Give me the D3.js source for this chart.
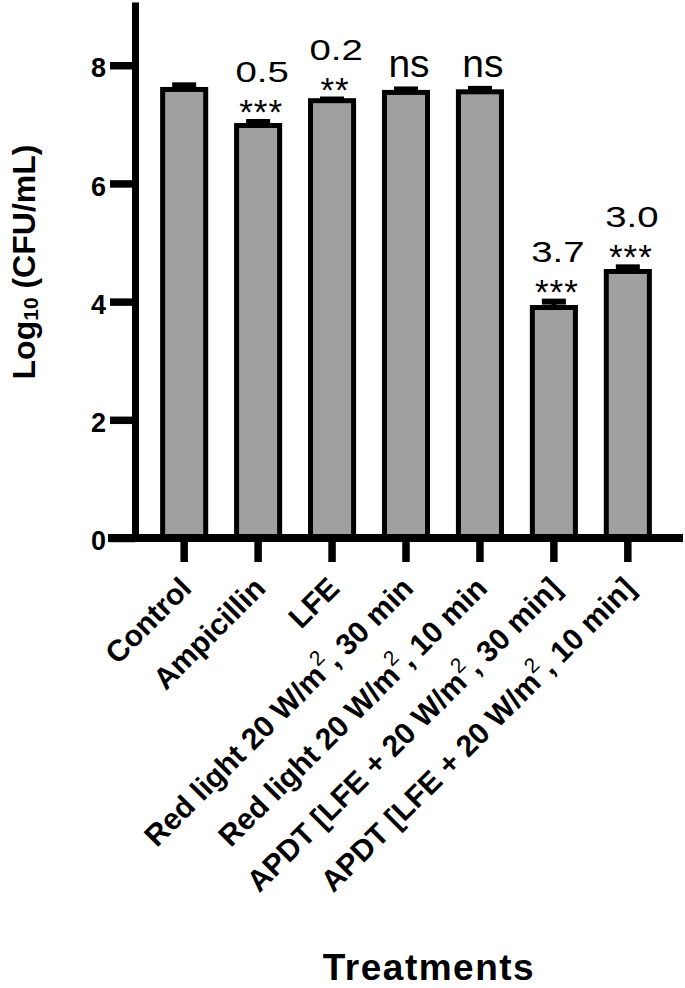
<!DOCTYPE html>
<html>
<head>
<meta charset="utf-8">
<script src="https://cdn.jsdelivr.net/npm/d3@7"></script>
<style>
  body { margin: 0; background: #fff; }
  svg { font-family: "Liberation Sans", Arial, sans-serif; }
</style>
</head>
<body>
<div id="chart"></div>
<script>
const width = 685;
const height = 988;

// data
const categories = [
    'Control',
    'Ampicillin',
    'LFE',
    'Red light 20 W/m², 30 min',
    'Red light 20 W/m², 10 min',
    'APDT [LFE + 20 W/m², 30 min]',
    'APDT [LFE + 20 W/m², 10 min]'
];
const means = [7.59, 6.98, 7.40, 7.54, 7.55, 3.90, 4.51];
const sds = [0.07, 0.06, 0.02, 0.05, 0.05, 0.10, 0.07];
const signif = ['', '***', '**', 'ns', 'ns', '***', '***'];
const reductions = ['', '0.5', '0.2', '', '', '3.7', '3.0'];
const yTicks = [0, 2, 4, 6, 8];

const svg = d3.select('#chart')
    .append('svg')
    .attr('width', width)
    .attr('height', height);

// scales
const x = d3.scaleBand()
    .domain(categories)
    .range([135, 677])
    .paddingInner(0.35)
    .paddingOuter(0.34);

const y = d3.scaleLinear()
    .domain([0, 9.07])
    .range([538, 2]);

const cx = (d) => x(d) + x.bandwidth() / 2;

// bars
svg.append('g')
    .selectAll('rect')
    .data(categories)
    .join('rect')
    .attr('x', d => x(d) + 2.5)
    .attr('width', x.bandwidth() - 5)
    .attr('y', (d, i) => y(means[i]))
    .attr('height', (d, i) => y(0) - y(means[i]))
    .attr('fill', '#a0a0a0')
    .attr('stroke', '#000')
    .attr('stroke-width', 5);

// error bars (upper only)
const err = svg.append('g').attr('stroke', '#000');
categories.forEach((c, i) => {
    err.append('line')
        .attr('x1', cx(c)).attr('x2', cx(c))
        .attr('y1', y(means[i])).attr('y2', y(means[i] + sds[i]))
        .attr('stroke-width', 5);
    err.append('line')
        .attr('x1', cx(c) - 12).attr('x2', cx(c) + 12)
        .attr('y1', y(means[i] + sds[i])).attr('y2', y(means[i] + sds[i]))
        .attr('stroke-width', 6);
});

// y axis
const yAxis = svg.append('g')
    .attr('transform', 'translate(135, 0)')
    .call(d3.axisLeft(y).tickValues(yTicks).tickSize(25).tickSizeOuter(0).tickPadding(4));
yAxis.select('.domain').attr('stroke-width', 7);
yAxis.selectAll('.tick line').attr('stroke-width', 7.5);
yAxis.selectAll('.tick text')
    .attr('font-size', 27)
    .attr('font-weight', 'bold')
    .attr('font-family', '"Liberation Sans", Arial, sans-serif')
    .attr('fill', '#000')
    .attr('dy', '0.43em');

// x axis
const xAxis = svg.append('g')
    .attr('transform', 'translate(0, ' + y(0) + ')')
    .call(d3.axisBottom(x).tickSize(24).tickSizeOuter(0).tickFormat(''));
xAxis.select('.domain').remove();
xAxis.selectAll('.tick line').attr('stroke-width', 7.5);
svg.append('line')
    .attr('x1', 108).attr('x2', 683)
    .attr('y1', y(0)).attr('y2', y(0))
    .attr('stroke', '#000')
    .attr('stroke-width', 8);

// rotated category labels
categories.forEach((c) => {
    const parts = c.split('²');
    const t = svg.append('text')
        .attr('transform', 'translate(' + (cx(c) + 9) + ', 590) rotate(-45)')
        .attr('text-anchor', 'end')
        .attr('font-size', 30)
        .attr('font-weight', 'bold');
    t.append('tspan').text(parts[0]);
    if (parts.length > 1) {
        t.append('tspan')
            .attr('font-size', 21)
            .attr('font-weight', 'normal')
            .attr('dy', -14)
            .text('2');
        t.append('tspan').attr('dy', 14).text(parts[1]);
    }
});

// significance and log reduction labels
categories.forEach((c, i) => {
    const capTop = y(means[i] + sds[i]) - 3;
    if (signif[i] === 'ns') {
        svg.append('text')
            .attr('x', cx(c) + 3)
            .attr('y', capTop - 9)
            .attr('text-anchor', 'middle')
            .attr('font-size', 39)
            .text('ns');
    } else if (signif[i] !== '') {
        const base = capTop + 5;
        svg.append('text')
            .attr('x', cx(c) + 3)
            .attr('y', base)
            .attr('text-anchor', 'middle')
            .attr('font-size', 35)
            .attr('letter-spacing', 1)
            .text(signif[i]);
        svg.append('text')
            .attr('transform', 'translate(' + (cx(c) + 4) + ',' + (base - 42) + ') scale(1.28, 1)')
            .attr('text-anchor', 'middle')
            .attr('font-size', 30)
            .text(reductions[i]);
    }
});

// axis titles
const yTitle = svg.append('text')
    .attr('transform', 'translate(35, 262) rotate(-90)')
    .attr('text-anchor', 'middle')
    .attr('font-size', 32)
    .attr('font-weight', 'bold');
yTitle.append('tspan').text('Log');
yTitle.append('tspan').attr('font-size', 21).attr('dy', 3).text('10');
yTitle.append('tspan').attr('dy', -3).text(' (CFU/mL)');

svg.append('text')
    .attr('x', 429)
    .attr('y', 980)
    .attr('text-anchor', 'middle')
    .attr('font-size', 37)
    .attr('font-weight', 'bold')
    .attr('letter-spacing', 1.5)
    .text('Treatments');
</script>
</body>
</html>
